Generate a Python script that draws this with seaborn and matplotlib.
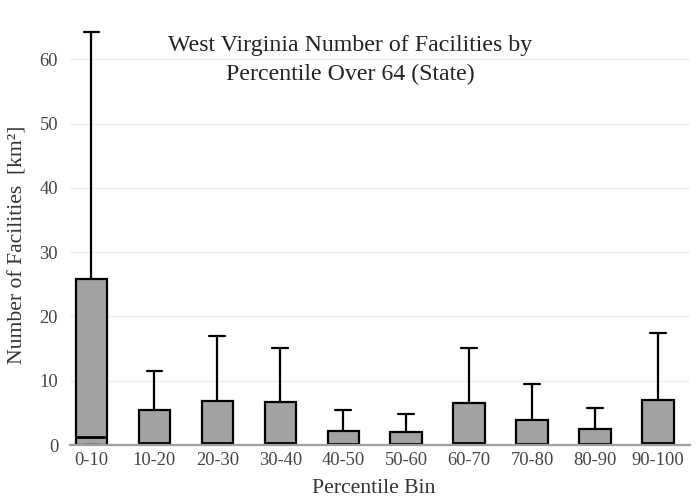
"""Box plot of facility counts per percentile bin (West Virginia, over-64 share)."""

import matplotlib.pyplot as plt
import pandas as pd
import seaborn as sns

BINS = ["0-10", "10-20", "20-30", "30-40", "40-50",
        "50-60", "60-70", "70-80", "80-90", "90-100"]
# five-number summary per bin
LOWS = [0, 0, 0, 0, 0, 0, 0, 0, 0, 0]
Q1S = [0, 0, 0, 0, 0, 0, 0, 0, 0, 0]
MEDIANS = [1.2, 0.3, 0.3, 0.3, 0.2, 0.2, 0.3, 0.2, 0.2, 0.3]
Q3S = [25.8, 5.5, 6.8, 6.7, 2.25, 2.05, 6.5, 3.95, 2.55, 7.0]
HIGHS = [64.2, 11.55, 17.0, 15.15, 5.4, 4.85, 15.1, 9.5, 5.7, 17.4]
Y_TICKS = [0, 10, 20, 30, 40, 50, 60]

TITLE = "West Virginia Number of Facilities by\nPercentile Over 64 (State)"
X_LABEL = "Percentile Bin"
Y_LABEL = "Number of Facilities  [km²]"


def build_frame():
    # 5 points per bin -> linear quartiles land exactly on Q1 / median / Q3
    rows = []
    for b, lo, q1, med, q3, hi in zip(BINS, LOWS, Q1S, MEDIANS, Q3S, HIGHS):
        for v in (lo, q1, med, q3, hi):
            rows.append({"bin": b, "value": v})
    return pd.DataFrame(rows)


def main():
    sns.set_theme(style="whitegrid", rc={"grid.color": "#eeeeee",
                                         "grid.linewidth": 1.0})
    plt.rcParams["font.family"] = ["Liberation Serif", "DejaVu Serif"]

    fig = plt.figure(figsize=(7, 5), dpi=100)
    ax = fig.add_axes([0.1, 0.11, 0.886, 0.85])

    sns.boxplot(
        data=build_frame(), x="bin", y="value", order=BINS,
        color="#a3a3a3", saturation=1, width=0.5,
        linecolor="black", linewidth=1.6, fliersize=0,
        medianprops={"color": "black", "linewidth": 2},
        ax=ax,
    )

    ax.set_xlim(-0.34, 9.51)
    ax.set_ylim(0, 66.1)
    ax.set_yticks(Y_TICKS)
    ax.xaxis.grid(False)
    for side in ("left", "right", "top"):
        ax.spines[side].set_visible(False)
    ax.spines["bottom"].set_color("#a0a0a0")
    ax.spines["bottom"].set_linewidth(1.6)
    ax.tick_params(axis="both", length=0, labelsize=13.3, labelcolor="#444444")
    ax.tick_params(axis="y", pad=8.5)
    ax.tick_params(axis="x", pad=5)

    ax.set_xlabel(X_LABEL, fontsize=15.6, color="#333333")
    ax.set_ylabel(Y_LABEL, fontsize=15.6, color="#333333")
    ax.xaxis.set_label_coords(0.49, -0.081)
    ax.yaxis.set_label_coords(-0.069, 0.47)

    fig.text(0.5, 0.88, TITLE, ha="center", va="center", fontsize=17.2,
             color="#222222", linespacing=1.45)

    fig.savefig("out.png", dpi=100)


if __name__ == "__main__":
    main()
